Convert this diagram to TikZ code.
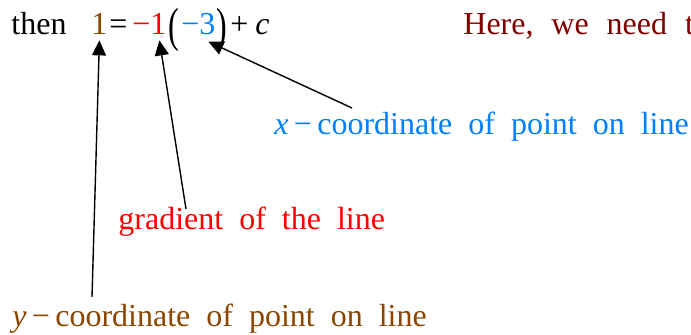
\documentclass[tikz,border=0pt]{standalone}
\usepackage{fontspec}
\usepackage{graphicx}
\setmainfont{Liberation Serif}
\usetikzlibrary{arrows.meta}
\definecolor{brn}{RGB}{140,70,0}
\definecolor{blu}{RGB}{0,128,255}
\definecolor{drd}{RGB}{128,0,0}
\definecolor{rd}{RGB}{255,0,0}
\tikzset{
  txt/.style={anchor=base west,inner sep=0pt,font=\fontsize{16}{19}\selectfont},
  par/.style={inner sep=0pt,font=\fontsize{16}{19}\selectfont},
  ptr/.style={-{Triangle[length=7.5pt,width=7pt]},line width=0.7pt}
}
\newcommand{\gap}{\hspace{0.5em}}
\newcommand{\wgap}{\hspace{0.56em}}
\begin{document}
\begin{tikzpicture}[x=0.5pt,y=-0.5pt]
\useasboundingbox (0,0) rectangle (691,335);
\clip (0,0) rectangle (691,335);
% the equation
\node[txt] (then) at (11,35){then};
\node[txt,brn] (yval) at (91,35){1};
\node[txt] (eq) at (109,35){=};
\node[txt,rd] (grad) at (132,35){−1};
\node[par] (lp) at (174,30){\scalebox{1}[1.5]{(}};
\node[txt,blu] (xval) at (181,35){−3};
\node[par] (rp) at (222,30){\scalebox{1}[1.5]{)}};
\node[txt] (plus) at (230,35){+};
\node[txt] (cc) at (255,35){\textit{c}};
\node[txt,drd] (here) at (463,35){Here,\wgap we\wgap need\wgap to};

% the labels
\node[txt,blu] (xlab) at (274,135){\textit{x}\,−\,coordinate\gap of\gap point\gap on\gap line};
\node[txt,rd] (glab) at (118,230){gradient\gap of\gap the\gap line};
\node[txt,brn] (ylab) at (12,327){\textit{y}\,−\,coordinate\gap of\gap point\gap on\gap line};

\coordinate (xtail) at (352,108);
\coordinate (gtail) at (186,209);
\coordinate (ytail) at (92,297);
\draw[ptr](xtail)--([xshift=5pt,yshift=-3pt]xval.south);
\draw[ptr](gtail)--([xshift=5pt,yshift=-2.5pt]grad.south);
\draw[ptr](ytail)--([yshift=-2.5pt]yval.south);
\end{tikzpicture}
\end{document}
